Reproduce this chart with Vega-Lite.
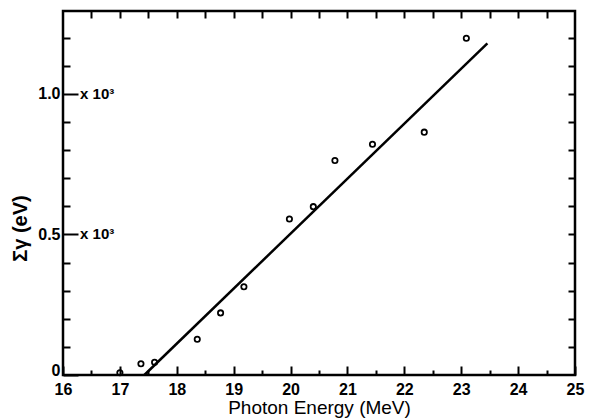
{
  "$schema": "https://vega.github.io/schema/vega-lite/v6.json",
  "width": 512,
  "height": 364,
  "autosize": {"type": "none"},
  "padding": {"left": 63, "top": 11, "right": 14, "bottom": 44},
  "background": "white",
  "config": {
    "view": {"stroke": "black", "strokeWidth": 2.5},
    "axis": {
      "domain": false,
      "grid": false,
      "tickColor": "black",
      "tickWidth": 2,
      "labelColor": "black",
      "titleColor": "black",
      "labelFont": "Liberation Sans",
      "titleFont": "Liberation Sans"
    }
  },
  "datasets": {
    "points": [
      {"energy": 17.0, "sum": 0.008},
      {"energy": 17.37, "sum": 0.040},
      {"energy": 17.61, "sum": 0.045},
      {"energy": 18.36, "sum": 0.127},
      {"energy": 18.77, "sum": 0.221},
      {"energy": 19.18, "sum": 0.314},
      {"energy": 19.98, "sum": 0.555},
      {"energy": 20.40, "sum": 0.599},
      {"energy": 20.78, "sum": 0.763},
      {"energy": 21.44, "sum": 0.821},
      {"energy": 22.35, "sum": 0.864},
      {"energy": 23.09, "sum": 1.198}
    ],
    "fit": [
      {"energy": 17.43, "sum": 0.0},
      {"energy": 23.46, "sum": 1.18}
    ],
    "notes": [
      {"energy": 16.3, "sum": 1.0, "label": "x 10³"},
      {"energy": 16.3, "sum": 0.5, "label": "x 10³"}
    ]
  },
  "layer": [
    {
      "data": {"name": "points"},
      "mark": {"type": "point", "shape": "circle", "filled": false, "color": "black", "strokeWidth": 1.8, "size": 28, "opacity": 1},
      "encoding": {
        "x": {
          "field": "energy", "type": "quantitative",
          "scale": {"domain": [16, 25], "nice": false, "zero": false},
          "axis": {
            "orient": "bottom",
            "values": [16, 17, 18, 19, 20, 21, 22, 23, 24, 25],
            "tickSize": -9,
            "labelPadding": 15,
            "labelFontSize": 16,
            "labelFontWeight": "bold",
            "labelFlush": false,
            "labelOverlap": false,
            "title": "Photon Energy (MeV)",
            "titleFontSize": 19,
            "titleFontWeight": "normal",
            "titleY": 23,
            "titleBaseline": "top"
          }
        },
        "y": {
          "field": "sum", "type": "quantitative",
          "scale": {"domain": [0, 1.295], "nice": false},
          "axis": {
            "orient": "left",
            "values": [0, 0.5, 1.0],
            "tickSize": -15,
            "labelPadding": 18,
            "labelFontSize": 16,
            "labelFontWeight": "bold",
            "labelFlush": false,
            "labelOverlap": false,
            "labelOffset": {"condition": {"test": "datum.value == 0", "value": -5}, "value": 0},
            "labelExpr": "datum.value == 0 ? '0' : format(datum.value, '.1f')",
            "title": "Σγ (eV)",
            "titleFontSize": 20,
            "titleFontWeight": "bold",
            "titleAngle": -90,
            "titleX": -43,
            "titleY": 217,
            "titleAlign": "center",
            "titleBaseline": "middle"
          }
        }
      }
    },
    {
      "data": {"name": "fit"},
      "mark": {"type": "line", "color": "black", "strokeWidth": 2.5},
      "encoding": {
        "x": {
          "field": "energy", "type": "quantitative",
          "axis": {
            "orient": "top",
            "values": [16.5, 17, 17.5, 18, 18.5, 19, 19.5, 20, 20.5, 21, 21.5, 22, 22.5, 23, 23.5, 24, 24.5],
            "tickSize": -7,
            "labels": false,
            "title": null
          }
        },
        "y": {
          "field": "sum", "type": "quantitative",
          "axis": {
            "orient": "right",
            "values": [0.1, 0.2, 0.3, 0.4, 0.5, 0.6, 0.7, 0.8, 0.9, 1.0, 1.1, 1.2],
            "tickSize": -7,
            "labels": false,
            "title": null
          }
        }
      }
    },
    {
      "data": {"name": "notes"},
      "mark": {"type": "text", "align": "left", "baseline": "middle", "font": "Liberation Sans", "fontWeight": "bold", "fontSize": 15, "color": "black"},
      "encoding": {
        "x": {
          "field": "energy", "type": "quantitative",
          "axis": {
            "orient": "bottom",
            "values": [16.5, 17.5, 18.5, 19.5, 20.5, 21.5, 22.5, 23.5, 24.5],
            "tickSize": -5,
            "labels": false,
            "title": null
          }
        },
        "y": {
          "field": "sum", "type": "quantitative",
          "axis": {
            "orient": "left",
            "values": [0.1, 0.2, 0.3, 0.4, 0.6, 0.7, 0.8, 0.9, 1.1, 1.2],
            "tickSize": -7,
            "labels": false,
            "title": null
          }
        },
        "text": {"field": "label"}
      }
    }
  ],
  "resolve": {"axis": {"x": "independent", "y": "independent"}}
}
